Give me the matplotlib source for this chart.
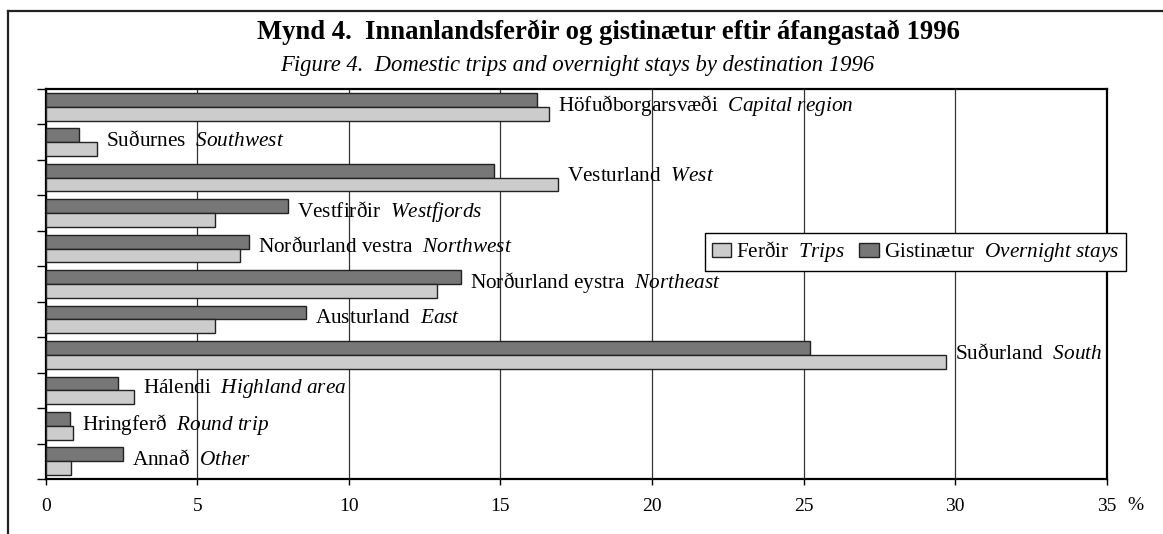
import numpy as np
import matplotlib
matplotlib.use('Agg')
import matplotlib.pyplot as plt
from matplotlib.lines import Line2D
from matplotlib.patches import Patch

plt.rcParams['font.family'] = ['Liberation Serif', 'DejaVu Serif']
plt.rcParams['mathtext.fontset'] = 'custom'
plt.rcParams['mathtext.rm'] = 'Liberation Serif'
plt.rcParams['mathtext.it'] = 'Liberation Serif:italic'

# data
regions_is = ['Höfuðborgarsvæði', 'Suðurnes', 'Vesturland', 'Vestfirðir',
              'Norðurland vestra', 'Norðurland eystra', 'Austurland',
              'Suðurland', 'Hálendi', 'Hringferð', 'Annað']
regions_en = ['Capital region', 'Southwest', 'West', 'Westfjords',
              'Northwest', 'Northeast', 'East', 'South', 'Highland area',
              'Round trip', 'Other']
trips = [16.6, 1.7, 16.9, 5.6, 6.4, 12.9, 5.6, 29.7, 2.9, 0.9, 0.85]
overnight = [16.2, 1.1, 14.8, 8.0, 6.7, 13.7, 8.6, 25.2, 2.4, 0.8, 2.55]
xticks = [0, 5, 10, 15, 20, 25, 30, 35]

W, H = 1163, 534
fig = plt.figure(figsize=(W / 100, H / 100), dpi=100)
ax = fig.add_axes([45.7 / W, 1 - 479 / H, (1106.7 - 45.7) / W, (479 - 89) / H])

y = np.arange(len(regions_is))
bh = 0.39
light = '#cccccc'
dark = '#777777'
ax.barh(y - bh / 2, overnight, height=bh, color=dark, edgecolor='#222222', linewidth=1, zorder=3)
ax.barh(y + bh / 2, trips, height=bh, color=light, edgecolor='#222222', linewidth=1, zorder=3)

for i in range(len(y)):
    xm = max(trips[i], overnight[i])
    en = regions_en[i].replace(' ', r'\ ')
    ax.annotate(regions_is[i] + '  $\\it{' + en + '}$', xy=(xm, y[i]),
                xytext=(6.5, 1), textcoords='offset points',
                ha='left', va='center', fontsize=15.3, zorder=4)

ax.set_xlim(0, 35)
ax.set_ylim(len(y) - 0.5, -0.5)
ax.set_xticks(xticks)
ax.set_xticklabels([str(t) for t in xticks], fontsize=14)
ax.set_yticks(np.arange(len(y) + 1) - 0.5)
ax.set_yticklabels([])
ax.tick_params(axis='y', direction='out', length=6.5, width=1)
ax.tick_params(axis='x', direction='out', length=4.5, width=1, pad=9)
ax.grid(axis='x', color='#333333', linewidth=0.9, zorder=0)
for s in ax.spines.values():
    s.set_linewidth(1.6)
    s.set_color('black')

fig.text(1135 / W, 1 - 506 / H, '%', fontsize=14, ha='center', va='center')

fig.text(608 / W, 1 - 39 / H, 'Mynd 4.  Innanlandsferðir og gistinætur eftir áfangastað 1996',
         fontsize=19.2, fontweight='bold', ha='center', va='baseline')
fig.text(577 / W, 1 - 71 / H, 'Figure 4.  Domestic trips and overnight stays by destination 1996',
         fontsize=16.3, style='italic', ha='center', va='baseline')

handles = [Patch(facecolor=light, edgecolor='#222222', linewidth=1),
           Patch(facecolor=dark, edgecolor='#222222', linewidth=1)]
labels = [r'Ferðir  $\it{Trips}$', r'Gistinætur  $\it{Overnight\ stays}$']
leg = fig.legend(handles, labels, ncol=2, loc='center',
                 bbox_to_anchor=((704 + 1127) / 2 / W, 1 - 252 / H),
                 fontsize=15.3, frameon=True, fancybox=False, framealpha=1,
                 edgecolor='black', handlelength=0.9, handleheight=0.6,
                 handletextpad=0.25, columnspacing=0.68, borderpad=0.3)
leg.get_frame().set_linewidth(1)

# outer frame (left and top only)
fig.add_artist(Line2D([8 / W, 8 / W], [0, 1 - 11 / H], transform=fig.transFigure,
                      color='#222222', linewidth=1.6))
fig.add_artist(Line2D([8 / W, 1], [1 - 11 / H, 1 - 11 / H], transform=fig.transFigure,
                      color='#222222', linewidth=1.6))

fig.savefig('out.png', dpi=100)
